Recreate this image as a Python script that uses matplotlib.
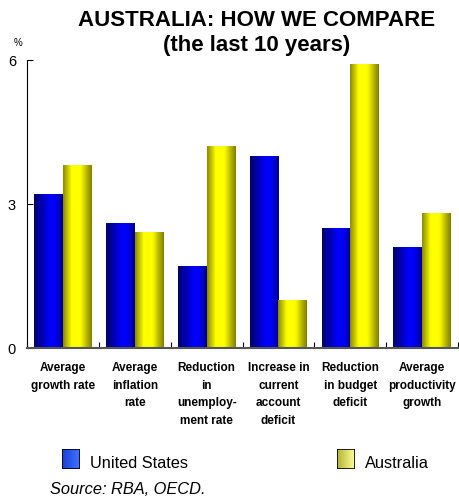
import numpy as np
import matplotlib.pyplot as plt
from matplotlib.colors import LinearSegmentedColormap
from matplotlib.patches import Rectangle

plt.rcParams['font.family'] = ['Liberation Sans', 'DejaVu Sans']

# ---- data ----
categories = [
    "Average\ngrowth rate",
    "Average\ninflation\nrate",
    "Reduction\nin\nunemploy-\nment rate",
    "Increase in\ncurrent\naccount\ndeficit",
    "Reduction\nin budget\ndeficit",
    "Average\nproductivity\ngrowth",
]
us_values = [3.2, 2.6, 1.7, 4.0, 2.5, 2.1]
aus_values = [3.8, 2.4, 4.2, 1.0, 5.9, 2.8]
yticks = [0, 3, 6]

# shaded "cylinder" look for bars
blue_cmap = LinearSegmentedColormap.from_list(
    "bluebar", [(0.0, (0, 0, 0.42)), (0.55, (0, 0, 1.0)), (0.75, (0, 0, 0.95)), (1.0, (0, 0, 0.55))])
yellow_cmap = LinearSegmentedColormap.from_list(
    "yellowbar", [(0.0, (0.55, 0.55, 0)), (0.3, (1, 1, 0)), (0.6, (1, 1, 0)), (1.0, (0.5, 0.5, 0))])
grad = np.linspace(0, 1, 64).reshape(1, -1)

fig = plt.figure(figsize=(4.59, 5.00), dpi=100)
ax = fig.add_axes([0.059, 0.304, 0.939, 0.576])

x = np.arange(len(categories))
w = 0.4
bars_us = ax.bar(x - w / 2, us_values, w, color='none')
bars_aus = ax.bar(x + w / 2, aus_values, w, color='none')


def shade(bars, cmap):
    for b in bars:
        x0, h, bw = b.get_x(), b.get_height(), b.get_width()
        ax.imshow(grad, cmap=cmap, aspect='auto', interpolation='bilinear',
                  extent=[x0, x0 + bw, 0, h], zorder=2)


shade(bars_us, blue_cmap)
shade(bars_aus, yellow_cmap)

ax.set_xlim(-0.5, len(categories) - 0.5)
ax.set_ylim(0, 6)
ax.set_yticks(yticks)
ax.set_yticklabels([str(t) for t in yticks], fontsize=10.5)
ax.tick_params(axis='y', direction='in', length=4, width=0.8, pad=8)
ax.set_xticks(np.arange(len(categories) + 1) - 0.5, minor=True)
ax.set_xticks([])
ax.tick_params(axis='x', which='minor', direction='in', length=4, width=0.8)
for s in ['top', 'right']:
    ax.spines[s].set_visible(False)
ax.spines['bottom'].set_color('#555555')
ax.spines['bottom'].set_linewidth(1.5)
ax.spines['bottom'].set_zorder(3)

for i, lab in enumerate(categories):
    ax.text(i, -0.3, lab, ha='center', va='top', fontsize=8.5,
            fontweight='bold', linespacing=1.6)

fig.text(0.56, 0.958, "AUSTRALIA: HOW WE COMPARE", ha='center', va='center',
         fontsize=16, fontweight='bold')
fig.text(0.56, 0.908, "(the last 10 years)", ha='center', va='center',
         fontsize=16, fontweight='bold')
fig.text(0.04, 0.915, "%", ha='center', va='center', fontsize=7)

# legend swatches
leg_blue = LinearSegmentedColormap.from_list("lb", [(0.1, 0.25, 0.85), (0.25, 0.45, 1.0)])
leg_yel = LinearSegmentedColormap.from_list("ly", [(0.7, 0.7, 0.2), (1.0, 1.0, 0.6)])
for left, cmap, label in [(62, leg_blue, "United States"), (337, leg_yel, "Australia")]:
    lax = fig.add_axes([left / 459, 31 / 500, 18 / 459, 20 / 500])
    lax.imshow(grad, cmap=cmap, aspect='auto', extent=[0, 1, 0, 1])
    lax.add_patch(Rectangle((0, 0), 1, 1, fill=False, lw=1.2, ec='black'))
    lax.set_xticks([])
    lax.set_yticks([])
    for s in lax.spines.values():
        s.set_visible(False)
    fig.text((left + 28) / 459, 36 / 500, label, ha='left', va='center', fontsize=11.8)

fig.text(50 / 459, 10 / 500, "Source: RBA, OECD.", ha='left', va='center',
         fontsize=11.8, style='italic')

fig.savefig("out.png", dpi=100)
